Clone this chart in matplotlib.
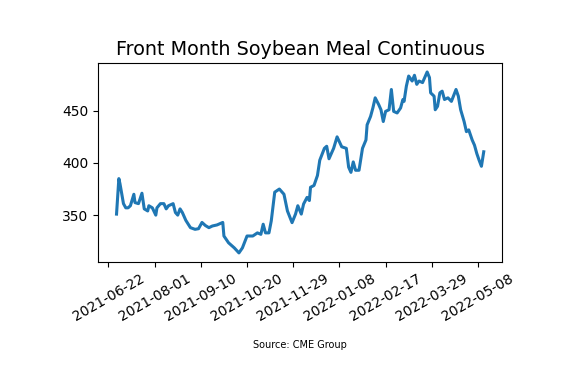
import pandas as pd
import matplotlib
matplotlib.use("Agg")
import matplotlib.pyplot as plt
import matplotlib.dates as mdates

# values
dates = [
    "2021-06-29", "2021-07-01", "2021-07-02", "2021-07-05", "2021-07-07", "2021-07-09",
    "2021-07-11", "2021-07-14", "2021-07-15", "2021-07-18", "2021-07-21", "2021-07-23",
    "2021-07-26", "2021-07-27", "2021-07-30", "2021-08-02", "2021-08-03", "2021-08-06",
    "2021-08-09", "2021-08-11", "2021-08-13", "2021-08-17", "2021-08-19", "2021-08-21",
    "2021-08-23", "2021-08-25", "2021-08-28", "2021-09-01", "2021-09-05", "2021-09-08",
    "2021-09-11", "2021-09-14", "2021-09-17", "2021-09-20", "2021-09-24", "2021-09-29",
    "2021-09-30", "2021-10-04", "2021-10-09", "2021-10-13", "2021-10-16", "2021-10-20",
    "2021-10-25", "2021-10-29", "2021-11-01", "2021-11-03", "2021-11-05", "2021-11-08",
    "2021-11-10", "2021-11-13", "2021-11-17", "2021-11-21", "2021-11-24", "2021-11-28",
    "2021-12-01", "2021-12-03", "2021-12-06", "2021-12-08", "2021-12-11", "2021-12-13",
    "2021-12-14", "2021-12-17", "2021-12-20", "2021-12-22", "2021-12-26", "2021-12-28",
    "2021-12-30", "2022-01-03", "2022-01-06", "2022-01-10", "2022-01-14", "2022-01-16",
    "2022-01-18", "2022-01-20", "2022-01-22", "2022-01-25", "2022-01-28", "2022-01-31",
    "2022-02-01", "2022-02-04", "2022-02-06", "2022-02-08", "2022-02-11", "2022-02-13",
    "2022-02-15", "2022-02-17", "2022-02-20", "2022-02-22", "2022-02-24", "2022-02-27",
    "2022-03-02", "2022-03-04", "2022-03-05", "2022-03-07", "2022-03-09", "2022-03-12",
    "2022-03-14", "2022-03-16", "2022-03-18", "2022-03-21", "2022-03-25", "2022-03-27",
    "2022-03-28", "2022-03-31", "2022-04-01", "2022-04-03", "2022-04-05", "2022-04-07",
    "2022-04-09", "2022-04-12", "2022-04-15", "2022-04-19", "2022-04-21", "2022-04-23",
    "2022-04-26", "2022-04-28", "2022-04-30", "2022-05-03", "2022-05-05", "2022-05-07",
    "2022-05-09", "2022-05-11", "2022-05-13",
]

prices = [
    351, 385, 380, 361, 357, 357,
    359, 370, 362, 361, 371, 356,
    354, 359, 357, 350, 357, 361,
    361, 356, 359, 361, 352.5, 350,
    356, 352.5, 345, 338, 336.4, 337,
    343, 340, 338, 339.6, 340.6, 343,
    330, 323.5, 318.6, 313.8, 318.6, 330,
    330, 333, 331.6, 341.3, 333, 333,
    344.5, 372, 375, 370, 354, 342.8,
    351, 359, 351, 360.7, 367, 364,
    376.7, 378.4, 388, 402.6, 414, 416,
    404, 414, 425, 415.5, 414, 396,
    391, 401, 393, 393, 414, 422,
    436.5, 444.6, 452.7, 462.4, 456, 451,
    439.7, 449.4, 451, 470.4, 449.4, 447.9,
    452.7, 460.8, 459, 473.6, 483.3, 478.5,
    484, 475.3, 478.5, 477, 487.2, 481.8,
    467.2, 464, 451, 454.3, 467.2, 468.8,
    460.8, 462.4, 459, 470.4, 464, 451,
    439.7, 430, 431.7, 422, 417, 409,
    402.6, 396.8, 410.7,
]

tick_start = "2021-06-22"


def main():
    df = pd.DataFrame({"Date": pd.to_datetime(dates), "Price": prices})

    fig = plt.figure(figsize=(5.61, 3.70), dpi=100)
    ax = fig.add_axes([0.175, 0.292, 0.72, 0.538])

    ax.plot(df["Date"], df["Price"], color="#1f77b4", linewidth=2.2)

    ax.set_xticks(pd.date_range(tick_start, periods=9, freq="40D"))
    ax.xaxis.set_major_formatter(mdates.DateFormatter("%Y-%m-%d"))
    ax.set_yticks([350, 400, 450])
    plt.setp(ax.get_xticklabels(), rotation=30, ha="center")

    ax.set_title("Front Month Soybean Meal Continuous", fontsize=13.8)

    fig.text(0.534, 0.06, "Source: CME Group", fontsize=7, ha="center")

    fig.savefig("out.png", dpi=100)


if __name__ == "__main__":
    main()
